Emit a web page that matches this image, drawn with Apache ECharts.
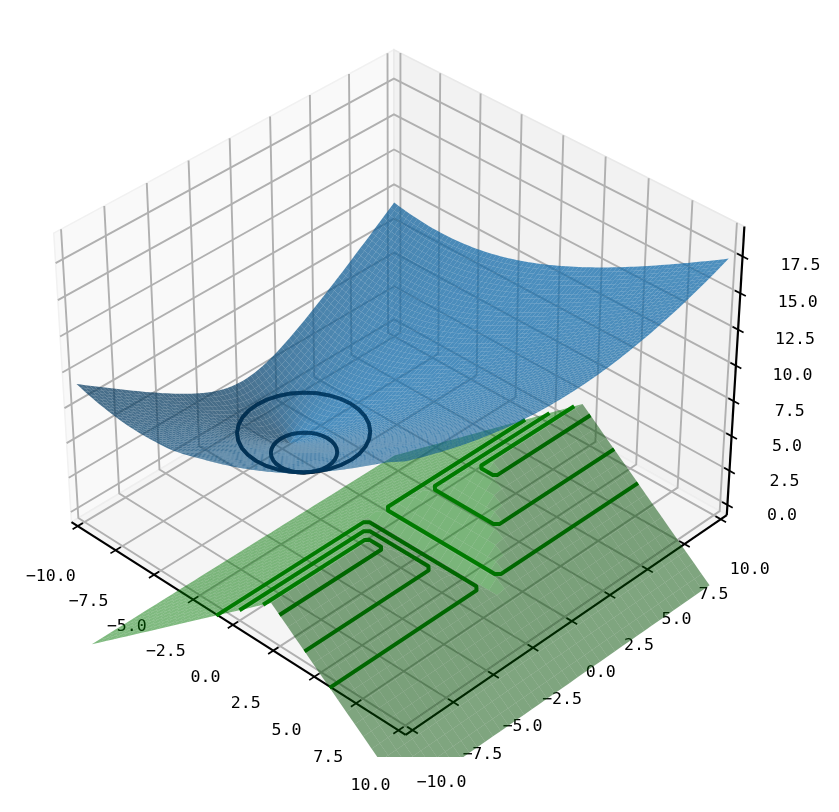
<!DOCTYPE html>
<html><head><meta charset="utf-8">
<style>html,body{margin:0;padding:0;background:#fff}#c{width:839px;height:812px}</style>
<script src="https://cdn.jsdelivr.net/npm/echarts@6/dist/echarts.min.js"></script>
</head><body><div id="c"></div>
<script>
// ---- values ----
const xTicks=[-10,-7.5,-5,-2.5,0,2.5,5,7.5,10];
const yTicks=[-10,-7.5,-5,-2.5,0,2.5,5,7.5,10];
const zTicks=[0,2.5,5,7.5,10,12.5,15,17.5];
const xTickLabels=['−10.0','−7.5','−5.0','−2.5','0.0','2.5','5.0','7.5','10.0'];
const yTickLabels=['−10.0','−7.5','−5.0','−2.5','0.0','2.5','5.0','7.5','10.0'];
const zTickLabels=['0.0','2.5','5.0','7.5','10.0','12.5','15.0','17.5'];
const xLim=[-10.417,10.417], yLim=[-10.417,10.417], zLim=[-0.75,19.5];
// green mesh positions (0.5 steps)
const greenMeshX=[-10,-9.5,-9,-8.5,-8,-7.5,-7,-6.5,-6,-5.5,-5,-4.5,-4,-3.5,-3,-2.5,-2,-1.5,-1,-0.5,0,0.5,1,1.5,2,2.5,3,3.5,4,4.5,5,5.5,6,6.5,7,7.5,8,8.5,9,9.5,10];
const greenMeshY=greenMeshX.slice();
// blue mesh positions (0.25 steps)
const blueMeshX=[-10,-9.75,-9.5,-9.25,-9,-8.75,-8.5,-8.25,-8,-7.75,-7.5,-7.25,-7,-6.75,-6.5,-6.25,-6,-5.75,-5.5,-5.25,-5,-4.75,-4.5,-4.25,-4,-3.75,-3.5,-3.25,-3,-2.75,-2.5,-2.25,-2,-1.75,-1.5,-1.25,-1,-0.75,-0.5,-0.25,0,0.25,0.5,0.75,1,1.25,1.5,1.75,2,2.25,2.5,2.75,3,3.25,3.5,3.75,4,4.25,4.5,4.75,5,5.25,5.5,5.75,6,6.25,6.5,6.75,7,7.25,7.5,7.75,8,8.25,8.5,8.75,9,9.25,9.5,9.75,10];
const blueMeshY=blueMeshX.slice();
// blue bowl: height along the y=0 section and along the x=-7 section
const blueAlongX=[2.64,2.42,2.2,1.98,1.76,1.54,1.32,1.1,0.88,0.66,0.44,0.22,0,0.22,0.44,0.66,0.88,1.1,1.32,1.54,1.76,1.98,2.2,2.42,2.64,2.86,3.08,3.3,3.52,3.74,3.96,4.18,4.4,4.62,4.84,5.06,5.28,5.5,5.72,5.94,6.16,6.38,6.6,6.82,7.04,7.26,7.48,7.7,7.92,8.14,8.36,8.58,8.8,9.02,9.24,9.46,9.68,9.9,10.12,10.34,10.56,10.78,11,11.22,11.44,11.66,11.88,12.1,12.32,12.54,12.76,12.98,13.2,13.42,13.64,13.86,14.08,14.3,14.52,14.74,14.96];
const blueAlongY=[8.8,8.58,8.36,8.14,7.92,7.7,7.48,7.26,7.04,6.82,6.6,6.38,6.16,5.94,5.72,5.5,5.28,5.06,4.84,4.62,4.4,4.18,3.96,3.74,3.52,3.3,3.08,2.86,2.64,2.42,2.2,1.98,1.76,1.54,1.32,1.1,0.88,0.66,0.44,0.22,0,0.22,0.44,0.66,0.88,1.1,1.32,1.54,1.76,1.98,2.2,2.42,2.64,2.86,3.08,3.3,3.52,3.74,3.96,4.18,4.4,4.62,4.84,5.06,5.28,5.5,5.72,5.94,6.16,6.38,6.6,6.82,7.04,7.26,7.48,7.7,7.92,8.14,8.36,8.58,8.8];
// how far the front rim (y=-10) sags below that bowl, by x; and how quickly the sag fades with y
const blueFrontSag=[0,0.03,0.06,0.09,0.12,0.15,0.18,0.2,0.23,0.26,0.29,0.32,0.35,0.37,0.39,0.41,0.43,0.45,0.47,0.49,0.51,0.53,0.55,0.58,0.6,0.6,0.59,0.59,0.58,0.57,0.57,0.56,0.55,0.56,0.57,0.58,0.59,0.6,0.6,0.61,0.62,0.63,0.64,0.64,0.65,0.65,0.66,0.66,0.67,0.67,0.68,0.68,0.68,0.69,0.69,0.7,0.7,0.67,0.63,0.6,0.57,0.53,0.5,0.47,0.43,0.4,0.37,0.33,0.3,0.26,0.22,0.19,0.15,0.11,0.08,0.04,0,0,0,0,0];
const blueSagFade=[1,0.95,0.9,0.85,0.8,0.75,0.7,0.65,0.6,0.55,0.5,0.45,0.4,0.35,0.3,0.25,0.2,0.15,0.1,0.05,0];
// green sheet: tent along x, valley along y
const greenTent=[-10,-9.5,-9,-8.5,-8,-7.5,-7,-6.5,-6,-5.5,-5,-4.5,-4,-3.5,-3,-2.5,-2,-1.5,-1,-0.5,0,0.5,1,1.5,2,1.5,1,0.5,0,-0.5,-1,-1.5,-2,-2.5,-3,-3.5,-4,-4.5,-5,-5.5,-6];
const greenValley=[7.9,7.4,6.9,6.4,5.9,5.4,4.9,4.4,3.9,3.4,2.9,2.4,1.9,1.4,0.9,0.4,-0.1,-0.6,-1.1,-1.6,-2.1,-1.6,-1.1,-0.6,-0.1,0.4,0.9,1.4,1.9,2.4,2.9,3.4,3.9,4.4,4.9,5.4,5.9,6.4,6.9,7.4,7.9];
// green contour lines
const contourLevels=[-1.5,0,1.5];
const contourX=[[-1.5,-1.5,-1.3,5.3,5.5,5.5],[0,0,0.2,3.8,4,4],[1.5,1.5,1.65,2.35,2.5,2.5]];
const contourYNear=[[-10,-0.8,-0.6,-0.6,-0.8,-10],[-10,-2.3,-2.1,-2.1,-2.3,-10],[-10,-3.75,-3.6,-3.6,-3.75,-10]];
const contourYFar=[[10,0.8,0.6,0.6,0.8,10],[10,2.3,2.1,2.1,2.3,10],[10,3.75,3.6,3.6,3.75,10]];
// dark rings
const ringLevels=[1.55,3.05];
const ringX=[[-3.4,-3.429,-3.514,-3.653,-3.839,-4.067,-4.326,-4.607,-4.9,-5.193,-5.474,-5.733,-5.961,-6.147,-6.286,-6.371,-6.4,-6.371,-6.286,-6.147,-5.961,-5.733,-5.474,-5.193,-4.9,-4.607,-4.326,-4.067,-3.839,-3.653,-3.514,-3.429,-3.4],
             [-1.9,-1.958,-2.128,-2.406,-2.779,-3.233,-3.752,-4.315,-4.9,-5.485,-6.048,-6.567,-7.021,-7.394,-7.672,-7.842,-7.9,-7.842,-7.672,-7.394,-7.021,-6.567,-6.048,-5.485,-4.9,-4.315,-3.752,-3.233,-2.779,-2.406,-2.128,-1.958,-1.9]];
const ringY=[[-1.14,-0.847,-0.566,-0.307,-0.079,0.107,0.246,0.331,0.36,0.331,0.246,0.107,-0.079,-0.307,-0.566,-0.847,-1.14,-1.433,-1.714,-1.973,-2.201,-2.387,-2.526,-2.611,-2.64,-2.611,-2.526,-2.387,-2.201,-1.973,-1.714,-1.433,-1.14],
             [-1.14,-0.555,0.008,0.527,0.981,1.354,1.632,1.802,1.86,1.802,1.632,1.354,0.981,0.527,0.008,-0.555,-1.14,-1.725,-2.288,-2.807,-3.261,-3.634,-3.912,-4.082,-4.14,-4.082,-3.912,-3.634,-3.261,-2.807,-2.288,-1.725,-1.14]];

// ---- view ----
const ELEV=36*Math.PI/180, AZIM=-46*Math.PI/180, DIST=10;
const BOX=[1.1905,1.1905,0.8929];
const se=Math.sin(ELEV),ce=Math.cos(ELEV),sa=Math.sin(AZIM),ca=Math.cos(AZIM);
const U=[-sa,ca,0],V=[-se*ca,-se*sa,ce],W=[ce*ca,ce*sa,se];
function project(x,y,z){
  const o=[((x-xLim[0])/(xLim[1]-xLim[0])-.5)*BOX[0],((y-yLim[0])/(yLim[1]-yLim[0])-.5)*BOX[1],((z-zLim[0])/(zLim[1]-zLim[0])-.5)*BOX[2]];
  const d=DIST-(W[0]*o[0]+W[1]*o[1]+W[2]*o[2]);
  return [(U[0]*o[0]+U[1]*o[1])/d,(V[0]*o[0]+V[1]*o[1]+V[2]*o[2])/d,d];
}
const SCALE=3995,CX=399.5,CY=378;
const LIGHT=[-0.6667,-0.6667,0.3333];
function buildCells(mx,my,zOf){
  const cells=[];
  for(let i=0;i<mx.length-1;i++)for(let j=0;j<my.length-1;j++){
    const p=[[i,j],[i+1,j],[i+1,j+1],[i,j+1]].map(([a,b])=>[mx[a],my[b],zOf(a,b)]);
    const d1=[p[2][0]-p[0][0],p[2][1]-p[0][1],p[2][2]-p[0][2]],d2=[p[3][0]-p[1][0],p[3][1]-p[1][1],p[3][2]-p[1][2]];
    const n=[d1[1]*d2[2]-d1[2]*d2[1],d1[2]*d2[0]-d1[0]*d2[2],d1[0]*d2[1]-d1[1]*d2[0]];
    const len=Math.hypot(n[0],n[1],n[2])||1;
    const shade=(n[0]*LIGHT[0]+n[1]*LIGHT[1]+n[2]*LIGHT[2])/len;
    const depth=p.reduce((s,q)=>s+project(q[0],q[1],q[2])[2],0)/4;
    const f=.5+.25*(shade+1);
    cells.push({p,f:.97-1.35*(.97-f),depth});
  }
  cells.sort((a,b)=>b.depth-a.depth);
  return cells;
}
const blueCells=buildCells(blueMeshX,blueMeshY,(a,b)=>Math.hypot(blueAlongX[a],blueAlongY[b])-blueFrontSag[a]*(blueSagFade[b]||0));
const greenCells=buildCells(greenMeshX,greenMeshY,(a,b)=>Math.min(greenTent[a],greenValley[b]));
function rgb(c,f,al){return `rgba(${Math.round(c[0]*f)},${Math.round(c[1]*f)},${Math.round(c[2]*f)},${al})`;}
function pt(api,x,y,z){const q=project(x,y,z);return api.coord([q[0],q[1]]);}
function cellRenderer(cells,color,alpha){
  return (params,api)=>{
    const c=cells[params.dataIndex];
    return {type:'polygon',silent:true,shape:{points:c.p.map(q=>pt(api,q[0],q[1],q[2]))},style:{fill:rgb(color,c.f,alpha)}};
  };
}
const [x0,x1]=xLim,[y0,y1]=yLim,[z0,z1]=zLim;
const TICK=0.31, FONT='"DejaVu Sans Mono"';
function frame(params,api){
  const ch=[];
  const poly=(pts,fill,stroke)=>ch.push({type:'polygon',shape:{points:pts.map(p=>pt(api,p[0],p[1],p[2]))},style:{fill,stroke,lineWidth:1.5}});
  const line=(pts,stroke,w)=>ch.push({type:'polyline',shape:{points:pts.map(p=>pt(api,p[0],p[1],p[2]))},style:{fill:'none',stroke,lineWidth:w}});
  const text=(s,a,b,c,dx,dy)=>{const q=pt(api,a,b,c);ch.push({type:'text',x:q[0]+dx,y:q[1]+dy,style:{text:s,fontFamily:FONT,fontSize:16.6,fill:'#000',textAlign:'center',textVerticalAlign:'middle',textBaseline:'middle'}});};
  poly([[x0,y0,z0],[x0,y1,z0],[x0,y1,z1],[x0,y0,z1]],'#f9f9f9','#f1f1f1');
  poly([[x0,y1,z0],[x1,y1,z0],[x1,y1,z1],[x0,y1,z1]],'#f2f2f2','#e9e9e9');
  poly([[x0,y0,z0],[x1,y0,z0],[x1,y1,z0],[x0,y1,z0]],'#f5f5f5','#eeeeee');
  const G='#b0b0b0',GW=1.9;
  xTicks.forEach(v=>line([[v,y0,z0],[v,y1,z0],[v,y1,z1]],G,GW));
  yTicks.forEach(v=>line([[x0,v,z1],[x0,v,z0],[x1,v,z0]],G,GW));
  zTicks.forEach(v=>line([[x0,y0,v],[x0,y1,v],[x1,y1,v]],G,GW));
  line([[x0,y0,z0],[x1,y0,z0]],'#000',2.2);
  line([[x1,y0,z0],[x1,y1,z0]],'#000',2.2);
  line([[x1,y1,z0],[x1,y1,z1]],'#000',2.2);
  xTicks.forEach((v,i)=>{const t=i/8;line([[v,y0-TICK,z0],[v,y0+TICK,z0]],'#000',1.7);text(xTickLabels[i],v,y0,z0,-27-1*t,51+4*t);});
  yTicks.forEach((v,i)=>{const t=i/8;line([[x1-TICK,v,z0],[x1+TICK,v,z0]],'#000',1.7);text(yTickLabels[i],x1,v,z0,29,53-3*t);});
  zTicks.forEach((v,i)=>{const t=i/7;line([[x1-TICK,y1,v],[x1+TICK,y1,v]],'#000',1.7);text(zTickLabels[i],x1,y1,v,54.5+3.5*t,11-2*t);});
  return {type:'group',children:ch,silent:true};
}
function contours(params,api){
  const ch=[];
  contourLevels.forEach((L,k)=>{[contourYNear,contourYFar].forEach(Ys=>{
    ch.push({type:'polyline',shape:{points:contourX[k].map((x,n)=>pt(api,x,Ys[k][n],L))},style:{fill:'none',stroke:'#008000',lineWidth:4,lineJoin:'round'}});
  });});
  return {type:'group',children:ch,silent:true};
}
function rings(stroke,opacity,w){return (params,api)=>({type:'group',silent:true,children:ringLevels.map((L,k)=>({
  type:'polyline',shape:{points:ringX[k].map((x,n)=>pt(api,x,ringY[k][n],L))},
  style:{fill:'none',stroke,lineWidth:w,opacity,lineJoin:'round'}}))});}
const chart=echarts.init(document.getElementById('c'),null,{renderer:'canvas'});
const yAxisFor=(b,idx)=>({type:'value',gridIndex:idx,show:false,min:(CY-b)/SCALE,max:CY/SCALE,scale:true});
const xAxisFor=idx=>({type:'value',gridIndex:idx,show:false,min:-CX/SCALE,max:(839-CX)/SCALE,scale:true});
const cust=(name,idx,render,data,z,clip)=>({type:'custom',name,coordinateSystem:'cartesian2d',xAxisIndex:idx,yAxisIndex:idx,renderItem:render,data,clip,z,silent:true,animation:false,progressive:0});
const one=[[0,0]];
chart.setOption({
  animation:false,backgroundColor:'#fff',tooltip:{show:false},
  grid:[{left:0,top:0,width:839,height:812},{left:0,top:0,width:839,height:757}],
  xAxis:[xAxisFor(0),xAxisFor(1)],
  yAxis:[yAxisFor(812,0),yAxisFor(757,1)],
  series:[
    cust('frame',0,frame,one,1,false),
    cust('green contours',1,contours,one,2,true),
    cust('green surface',1,cellRenderer(greenCells,[0,128,0],0.5),greenCells.map((c,i)=>[i,0]),3,true),
    cust('rings under',1,rings('#000',1,3.8),one,4,true),
    cust('blue surface',1,cellRenderer(blueCells,[20,112,178],0.75),blueCells.map((c,i)=>[i,0]),5,true),
    cust('rings',1,rings('#00345c',0.55,3.8),one,6,true)
  ]
});
</script></body></html>
